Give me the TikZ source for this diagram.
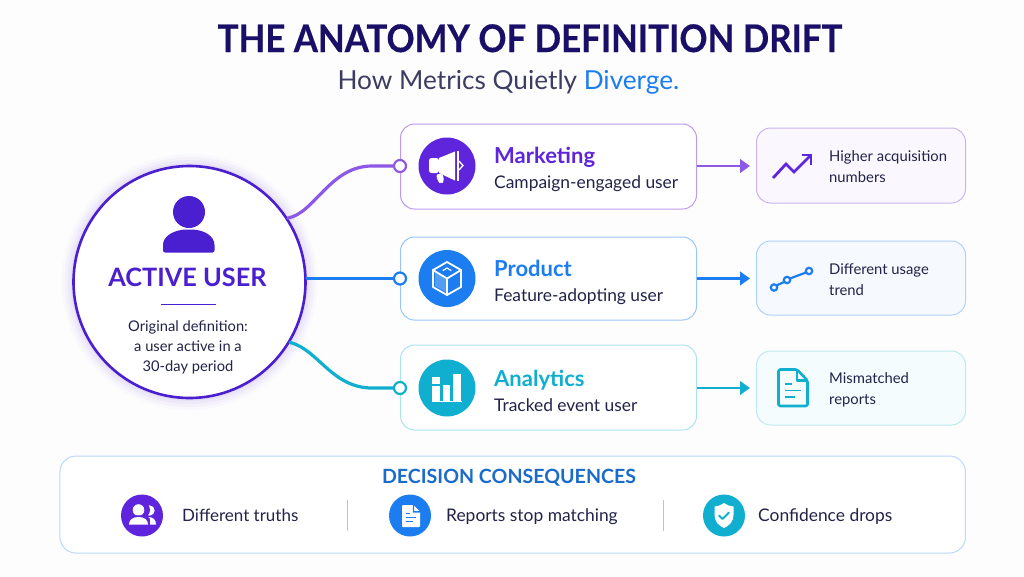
\documentclass[tikz,border=0pt]{standalone}
\usepackage{fontspec}
\setmainfont{Lato}
\newfontfamily\titlefont[FakeStretch=0.915,FakeBold=0.4]{Lato}
\usetikzlibrary{arrows.meta}
\definecolor{ink}{HTML}{1A0F66}
\definecolor{txt}{HTML}{23234A}
\definecolor{sub}{HTML}{3D3D63}
\definecolor{deep}{HTML}{4A1FCF}
\definecolor{purp}{HTML}{5F25DC}
\definecolor{purl}{HTML}{8E58E6}
\definecolor{blu}{HTML}{1C7DF0}
\definecolor{tea}{HTML}{10AFCF}
\definecolor{deci}{HTML}{1B6CC9}
\definecolor{paper}{HTML}{FDFDFE}
\tikzset{
  x=1pt,y=-1pt,
  lbl/.style={anchor=base west,inner sep=0pt,text=txt,font=\fontsize{17.4}{20}\selectfont},
  cardtitle/.style={anchor=base west,inner sep=0pt,font=\fontsize{22}{26}\selectfont\bfseries},
  smalltxt/.style={anchor=west,inner sep=0pt,text=txt,align=left,font=\fontsize{14.8}{21.5}\selectfont},
  card/.style={draw=#1,line width=1pt,fill=white,rounded corners=14pt,inner sep=0pt,minimum width=296pt},
  rescard/.style={rounded corners=14pt,line width=1pt,inner sep=0pt,minimum width=209pt},
  iconball/.style={circle,fill=#1,inner sep=0pt,minimum size=57pt},
  smallball/.style={circle,fill=#1,inner sep=0pt,minimum size=42pt},
  ring/.style={circle,draw=#1,line width=2.2pt,fill=white,inner sep=0pt,minimum size=12pt},
  link/.style={draw=#1,line width=3.2pt,line cap=round},
  flow/.style={draw=#1,line width=2.5pt,shorten >=6pt,-{Triangle[length=10pt,width=13.5pt]}},
  whitestroke/.style={draw=white,line width=2pt,line join=round,line cap=round},
}
\begin{document}
\begin{tikzpicture}
\useasboundingbox (0,0) rectangle (1024,576);
\fill[paper] (0,0) rectangle (1024,576);
% title
\node[inner sep=0pt,anchor=base,text=ink,font=\titlefont\fontsize{38}{44}\selectfont\bfseries] (title) at (530,52) {THE ANATOMY OF DEFINITION DRIFT};
\node[inner sep=0pt,anchor=base,text=sub,font=\fontsize{26.2}{30}\selectfont] (subtitle) at (508.5,89) {How Metrics Quietly \textcolor{blu}{Diverge.}};
% glow
\foreach \r/\o in {128/0.02,125/0.03,122/0.04,119/0.05}{\fill[purp,opacity=\o] (189.5,282) circle[radius=\r];}
% cards
\node[card=purl!60!white,minimum height=85pt] (cardM) at (548.5,166.5) {};
\node[card=blu!45!white,minimum height=83pt] (cardP) at (548.5,278.5) {};
\node[card=tea!35!white,minimum height=85pt] (cardA) at (548.5,387.5) {};
\node[rescard,draw=purl!45!white,fill=purl!4!white,minimum height=75pt] (resM) at (861,165.5) {};
\node[rescard,draw=blu!35!white,fill=blu!4!white,minimum height=74pt] (resP) at (861,278) {};
\node[rescard,draw=tea!28!white,fill=tea!4!white,minimum height=74pt] (resA) at (861,388) {};
% central node
\node[circle,draw=deep,line width=2.6pt,fill=white,inner sep=0pt,minimum size=232pt] (user) at (189.5,282) {};
% dots
\node[ring=purl] (dotM) at (400,166) {};
\node[ring=blu] (dotP) at (400,278.5) {};
\node[ring=tea] (dotA) at (400,388) {};
\coordinate (kneeM) at (372,166);
\coordinate (kneeA) at (372,388);
% connectors
\draw[link=purl] (user.33) .. controls +(27,-5) and +(-42,0) .. (kneeM) -- (dotM.west);
\draw[link=blu] (user.east|-dotP) -- (dotP.west);
\draw[link=tea] (user.-31) .. controls +(28,7) and +(-40,0) .. (kneeA) -- (dotA.west);
\draw[flow=purl] (cardM.east|-dotM) -- (resM.west|-dotM);
\draw[flow=blu] (cardP.east|-dotP) -- (resP.west|-dotP);
\draw[flow=tea] (cardA.east|-dotA) -- (resA.west|-dotA);
% user content
\fill[deep] (189,212) circle[radius=16];
\fill[deep,rounded corners=2pt] (163,252.5) -- (163,247) .. controls (163,236) and (174,229.5) .. (189,229.5) .. controls (204,229.5) and (214.5,236) .. (214.5,247) -- (214.5,252.5) -- cycle;
\node[inner sep=0pt,text=deep,font=\fontsize{25.3}{30}\selectfont\bfseries] (utitle) at (187.5,277) {ACTIVE USER};
\draw[deep,line width=1pt] (161,304) -- (216,304);
\node[inner sep=0pt,text=txt,align=center,font=\fontsize{14.7}{20.2}\selectfont] (udef) at (188,347.5) {Original definition:\\a user active in a\\30-day period};
% card icons
\node[iconball=purp] (icoM) at (447,166) {};
\node[iconball=blu] (icoP) at (447,278.5) {};
\node[iconball=tea] (icoA) at (447,388) {};
% megaphone
\fill[white,rounded corners=2.5pt] (429,158) rectangle (439,173);
\fill[white] (439,158) -- (455,151.5) -- (455,180.5) -- (439,173) -- cycle;
\fill[white,rounded corners=2.5pt] (436,174) -- (443,174) -- (444,182) -- (441,183.5) -- (438,182) -- cycle;
\draw[white,line width=1.4pt] (458,151) -- (458,181);
\draw[white,line width=1.3pt] (459,161) -- (463,165.5) -- (459,170);
% cube
\draw[whitestroke,line width=1.8pt] (447,262) -- (461,270) -- (461,287) -- (447,295) -- (433,287) -- (433,270) -- cycle;
\draw[whitestroke,line width=1.8pt] (433,270) -- (447,278.5) -- (461,270) (447,278.5) -- (447,295);
\draw[whitestroke,line width=1.2pt] (443,270.5) -- (447,268) -- (451,270.5);
\fill[white,opacity=.25] (435,272) -- (446,279) -- (446,292) -- (435,286) -- cycle;
% bars
\fill[white] (432.3,377) rectangle (440,383.5);
\fill[white] (432.3,385.5) rectangle (440,401);
\fill[white] (442.7,385) rectangle (450,401);
\fill[white] (453.3,373.5) rectangle (461,401);
\draw[white,line width=.8pt] (432,401.5) -- (462,401.5);
% card text
\node[cardtitle,text=purp] (tM) at (494,163) {Marketing};
\node[lbl] (sM) at (494,188.5) {Campaign-engaged user};
\node[cardtitle,text=blu] (tP) at (494,276) {Product};
\node[lbl] (sP) at (494,301.5) {Feature-adopting user};
\node[cardtitle,text=tea] (tA) at (494,386) {Analytics};
\node[lbl] (sA) at (494,411) {Tracked event user};
% result icons
\draw[purp,line width=2.8pt,line join=miter] (773,178) -- (786,164) -- (794,172) -- (811,155);
\draw[purp,line width=2.8pt] (802,155) -- (811,155) -- (811,165);
\draw[blu,line width=2.2pt] (776.5,285.5) -- (784,282) (790,278.5) -- (806,272.5);
\draw[blu,line width=2.2pt,fill=white] (774,287.5) circle[radius=3.2] (787,280) circle[radius=3.2] (809,271) circle[radius=3.2];
\draw[tea,line width=2.6pt,line join=round,rounded corners=1.5pt] (778.5,369.5) -- (797,369.5) -- (807.5,380.5) -- (807.5,406) -- (778.5,406) -- cycle;
\draw[tea,line width=2.2pt,line join=round] (797,369.5) -- (797,380.5) -- (807.5,380.5);
\draw[tea,line width=1.8pt] (785,384) -- (792,384) (785,390.5) -- (801,390.5) (785,397) -- (795,397);
% result text
\node[smalltxt] (rM) at (829,166.5) {Higher acquisition\\numbers};
\node[smalltxt] (rP) at (829,279.5) {Different usage\\trend};
\node[smalltxt] (rA) at (829,390) {Mismatched\\reports};
% bottom
\node[draw=blu!30!white,line width=1pt,fill=white,rounded corners=16pt,inner sep=0pt,minimum width=905.5pt,minimum height=97pt] (panel) at (512.7,504.5) {};
\node[inner sep=0pt,anchor=base,text=deci,font=\fontsize{19.6}{23}\selectfont\bfseries] (dc) at (509,483.5) {DECISION CONSEQUENCES};
\node[smallball=purp] (b1) at (142,515.5) {};
\node[smallball=blu] (b2) at (410,515.5) {};
\node[smallball=tea] (b3) at (724,515.5) {};
\node[lbl,font=\fontsize{17}{20}\selectfont] (l1) at (182,521) {Different truths};
\node[lbl] (l2) at (446,521) {Reports stop matching};
\node[lbl] (l3) at (758,521) {Confidence drops};
\draw[blu!25!gray!45!white,line width=.9pt] (347,500) -- (347,531);
\draw[blu!25!gray!45!white,line width=.9pt] (663,500) -- (663,531);
% people icon
\fill[white] (149.5,510.5) circle[radius=5.2];
\fill[white] (150,524.5) -- (156,524.5) .. controls (156,519.5) and (153,517) .. (148,517) .. controls (151,519) and (150,521) .. (150,524.5) -- cycle;
\fill[purp] (142,510) circle[radius=8];
\fill[white] (138.5,510) circle[radius=5.8];
\fill[purp] (129,517.5) .. controls (133,514.5) and (144,514.5) .. (149.5,518) -- (149.5,526) -- (128,526) -- cycle;
\fill[white] (129,524.5) .. controls (129,519.5) and (133,517) .. (138.5,517) .. controls (144,517) and (148,519.5) .. (148,524.5) -- cycle;
% doc icon
\fill[white,rounded corners=1pt] (402,505) -- (413.5,505) -- (420,511.5) -- (420,527) -- (402,527) -- cycle;
\fill[blu] (414,505) -- (414,511) -- (420,511) -- (420,512.5) -- (412.8,512.5) -- (412.8,505) -- cycle;
\draw[blu,line width=1.1pt] (405.5,513.5) -- (410,513.5) (405.5,517.5) -- (416,517.5) (405.5,521.5) -- (413,521.5);
% shield icon
\fill[white] (724,503) .. controls (728,505.5) and (730.5,506.5) .. (733.5,506.5) -- (733.5,515) .. controls (733.5,521.5) and (729,526) .. (724,528) .. controls (719,526) and (714.5,521.5) .. (714.5,515) -- (714.5,506.5) .. controls (717.5,506.5) and (720,505.5) .. (724,503) -- cycle;
\draw[tea,line width=1.9pt,line cap=round,line join=round] (719,515.5) -- (722.5,519) -- (729,512.5);
\end{tikzpicture}
\end{document}
